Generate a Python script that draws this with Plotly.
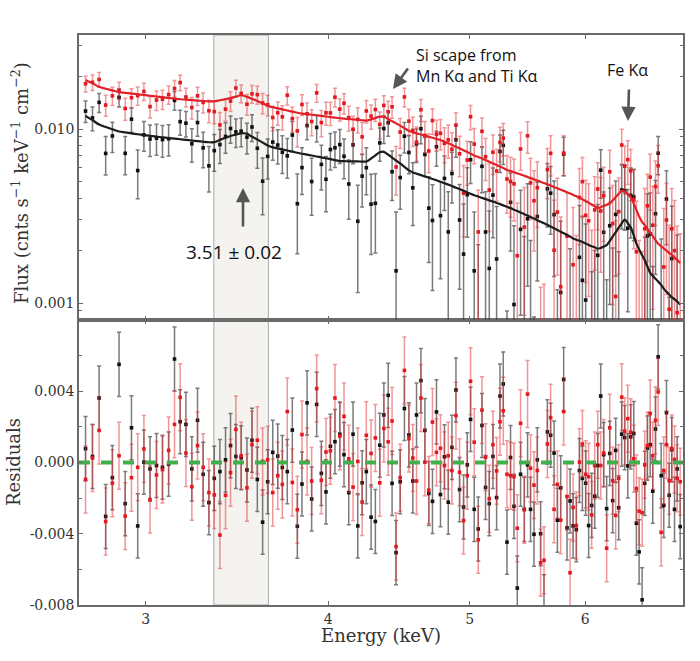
import numpy as np
import plotly.graph_objects as go

# ---------------- data ----------------
energy = [
    2.728, 2.758, 2.787, 2.816, 2.846, 2.876, 2.904, 2.933, 2.962, 2.991, 3.020, 3.051,
    3.080, 3.110, 3.139, 3.167, 3.196, 3.226, 3.255, 3.284, 3.314, 3.342, 3.372, 3.402,
    3.429, 3.458, 3.487, 3.519, 3.547, 3.577, 3.607, 3.636, 3.665, 3.694, 3.721, 3.750,
    3.780, 3.810, 3.838, 3.869, 3.897, 3.928, 3.957, 3.986, 4.014, 4.043, 4.074, 4.101,
    4.132, 4.160, 4.191, 4.220, 4.248, 4.280, 4.309,
    4.339, 4.367, 4.397, 4.424, 4.452, 4.481, 4.511, 4.543, 4.571, 4.598, 4.630, 4.659,
    4.688, 4.715, 4.745, 4.775, 4.805, 4.834, 4.862, 4.893, 4.921, 4.952, 4.981, 5.007,
    5.036, 5.068, 5.098, 5.127, 5.157, 5.187, 5.217, 5.245, 5.272, 5.303, 5.333, 5.362,
    5.390, 5.418, 5.450,
    5.478, 5.504, 5.534, 5.563, 5.592, 5.622, 5.652, 5.681, 5.712, 5.742, 5.772, 5.799,
    5.830, 5.858, 5.886, 5.916, 5.945, 5.973, 6.004, 6.032, 6.061, 6.090, 6.119, 6.148,
    6.177, 6.206, 6.236, 6.265, 6.295, 6.325, 6.355, 6.385, 6.416, 6.446, 6.477, 6.504,
    6.532, 6.563, 6.590, 6.618, 6.647, 6.674, 6.703, 6.731, 6.763, 6.791, 6.820, 6.849,
    6.877, 6.907, 6.936, 6.969,
]

model_black = [
    0.0119, 0.01124, 0.0106, 0.01027, 0.00997, 0.00968, 0.00956, 0.00944, 0.00933, 0.00923,
    0.00912, 0.00903, 0.00896, 0.00888, 0.00880, 0.00873, 0.00866, 0.00859, 0.00852, 0.00845,
    0.00839, 0.0084, 0.00865, 0.00891,
    0.00912, 0.00928, 0.00944, 0.0094, 0.00902, 0.0087, 0.00836, 0.00804, 0.00784, 0.00773,
    0.00763, 0.00752, 0.00741, 0.0073, 0.00721, 0.00712, 0.00704, 0.00695, 0.00687, 0.00679,
    0.00671, 0.00663, 0.00654, 0.00653, 0.00652, 0.00652, 0.00651, 0.0065, 0.0065, 0.00677,
    0.00705,
    0.00735, 0.00739, 0.00711, 0.00685, 0.00659, 0.00634, 0.00606, 0.00578, 0.00563, 0.00554,
    0.00543, 0.00534, 0.00525, 0.00516, 0.00507, 0.00498, 0.00488, 0.00479, 0.0047, 0.0046,
    0.00452, 0.00441, 0.00432, 0.00424, 0.00416, 0.00409, 0.00402, 0.00396, 0.00389, 0.00383,
    0.00376, 0.0037, 0.00364, 0.00357, 0.00351, 0.00344, 0.00338, 0.00331, 0.00324,
    0.00318, 0.00312, 0.00306, 0.00299, 0.00293, 0.00287, 0.00281, 0.00275, 0.00269, 0.00263,
    0.00257, 0.00252, 0.00246, 0.00241, 0.00235, 0.00231, 0.00228, 0.00224, 0.0022, 0.00216,
    0.00212, 0.00209, 0.00205, 0.00207, 0.00211, 0.00215, 0.00227, 0.00241, 0.00255, 0.00271,
    0.00287, 0.00302, 0.00288, 0.00272, 0.00245, 0.0022, 0.00203, 0.00188, 0.00176, 0.00162,
    0.00149, 0.00143, 0.00138, 0.00133, 0.00127, 0.00121, 0.00116, 0.00112, 0.00108, 0.00105,
    0.00102, 0.00098,
]

model_red = [
    0.01914, 0.0183, 0.01747, 0.01704, 0.01667, 0.01628, 0.01613, 0.01598, 0.01582, 0.01568,
    0.01553, 0.01537, 0.01523, 0.01509, 0.01495, 0.01482, 0.01474, 0.01465, 0.01457, 0.01449,
    0.01442, 0.01441, 0.01463, 0.01484,
    0.01504, 0.01534, 0.01563, 0.0153, 0.01492, 0.0145, 0.01405, 0.01362, 0.01333, 0.01314,
    0.01297, 0.01277, 0.01259, 0.0124, 0.01226, 0.01217, 0.01208, 0.01198, 0.01189, 0.0118,
    0.01171, 0.01162, 0.01153, 0.01147, 0.01141, 0.01135, 0.01129, 0.01123, 0.01117, 0.01135,
    0.01156,
    0.01177, 0.01175, 0.0114, 0.01109, 0.01077, 0.01045, 0.01011, 0.00976, 0.00956, 0.00944,
    0.00929, 0.00916, 0.00903, 0.00891, 0.00877, 0.00865, 0.00845, 0.00828, 0.0081, 0.0079,
    0.00775, 0.00754, 0.00737, 0.00721, 0.00705, 0.0069, 0.00676, 0.00663, 0.00649, 0.00635,
    0.00621, 0.00608, 0.00596, 0.00582, 0.00573, 0.00564, 0.00556, 0.00548, 0.00538,
    0.0053, 0.00522, 0.00514, 0.00505, 0.00498, 0.00489, 0.00481, 0.00473, 0.00464, 0.00456,
    0.00448, 0.00441, 0.00433, 0.00426, 0.00418, 0.0041, 0.00402, 0.00394, 0.00385, 0.00377,
    0.00368, 0.0036, 0.00352, 0.00355, 0.00361, 0.00367, 0.00373, 0.00388, 0.00406, 0.00424,
    0.00442, 0.00435, 0.00421, 0.00405, 0.00372, 0.00343, 0.00314, 0.00292, 0.0028, 0.00267,
    0.00254, 0.00242, 0.0023, 0.00219, 0.00212, 0.00206, 0.002, 0.00194, 0.00189, 0.00183,
    0.00177, 0.0017,
]

# residuals (data - model), in units of 1e-3
resid_black_e3 = [
    0.78, 0.34, 3.62, -3.03, -0.85, 5.51, -2.31, 1.95, -3.56, 0.02, -0.36, -0.17,
    -0.27, -0.09, 5.81, 2.29, 2.14, -0.36, 2.37, -0.66, -2.25, -0.89, -0.51, 0.15,
    0.95, 0.34, 0.27, -0.42, 1.25, -0.95, -3.35, -1.08, 0.57, 0.36, -0.28, -0.51,
    1.82, -3.58, -1.21, 3.35, -2.05, 3.26, -0.61, -1.65, 0.91, 1.17, 1.59, 0.44,
    -1.69, 1.59, -3.56, -1.14, -0.51, -3.07, -3.31,
    0.97, 2.67, 3.77, -1.17, -5.06, -1.08, 3.03, 1.55, -1.04, 2.67, 4.60, 1.80,
    -1.74, -2.18, 2.84, -1.80, 0.32, -2.23, 0.85, 4.07, -1.52, -2.50, -0.13, 2.42,
    -2.63, -3.73, 2.08, -1.40, -2.31, 0.34, -1.97, 3.73, 4.41, -4.47, 0.28, -2.46,
    -7.05, -0.66, -2.63,
    -0.13, -2.63, -4.03, 0.15, -4.00, -8.10, 1.72, 1.53, 0.53, -3.24, -1.42, 4.66,
    -3.67, -2.16, -3.56, -3.77, -0.45, -0.89, -1.16, -3.54, -2.41, -1.89, -0.17, 3.73,
    0.44, -2.59, 0.51, -2.14, 0.68, -2.54, 1.59, 1.40, -0.19, 1.44, 1.63, -3.41,
    -5.02, -7.71, -1.17, 0.81, 1.00, -1.61, 1.88, 5.93, -0.74, -2.41, 2.80, -1.84,
    0.72, -2.63, -0.36, -3.60,
]

resid_red_e3 = [
    -0.95, 0.25, 1.80, -3.31, -1.16, 0.38, -3.01, -0.85, -0.27, 0.76, -2.08, -0.70,
    -0.40, 0.68, 2.14, 3.66, 0.53, -1.36, 0.95, -0.27, -1.69, -1.82, -4.07, -1.84,
    -0.57, 1.86, 0.38, -1.42, 1.00, 1.25, 0.06, 0.15, -1.69, -0.74, -1.23, 2.86,
    -1.12, -2.65, 1.57, 0.06, -1.04, 4.15, -1.00, 0.59, 0.66, 3.62, 1.48, 2.59,
    0.21, -1.38, 0.06, -2.22, 1.53, 0.51, 1.38,
    -1.14, 1.91, 1.16, 2.33, -4.72, -0.85, 5.17, 1.34, 0.25, -1.04, 3.62, 0.02,
    -1.55, 2.27, 0.57, 0.80, -0.17, 0.38, -0.45, 2.63, -0.55, -3.26, -0.74, 4.56,
    1.14, -4.34, 2.94, 0.30, -2.03, 1.00, -0.47, 2.29, 2.90, -0.66, -0.74, -0.80,
    -3.69, 2.20, -2.65,
    3.84, -0.32, -1.27, -0.45, -5.63, -5.49, 1.04, 2.52, -2.63, -1.23, -3.24, 2.86,
    -1.91, -6.19, -2.52, -3.54, 0.02, 1.04, -0.66, -0.80, -2.94, -0.17, 1.00, -0.17,
    0.53, -4.81, 1.95, -1.02, -2.97, -0.89, 3.67, 1.76, 2.46, 1.70, 0.21, -1.46,
    -2.73, -2.82, -0.13, 0.95, 2.75, 0.38, 2.37, 3.96, -3.92, -0.45, 1.00, -1.02,
    0.78, 0.17, -0.89, -1.08,
]

err_black = 0.00180   # 1-sigma error bar half length
err_red = 0.00188

band_lo, band_hi = 3.34, 3.64      # shaded 3.51 keV region
x_range = [2.7, 7.0]
flux_ticks = [0.001, 0.01]
flux_ticktext = ["0.001", "0.010"]
res_ticks = [-0.008, -0.004, 0.0, 0.004]
res_ticktext = ["-0.008", "-0.004", "0.000", "0.004"]
x_ticks = [3, 4, 5, 6]

# ---------------- derived ----------------
E = np.array(energy)
rb = np.array(resid_black_e3) * 1e-3
rr = np.array(resid_red_e3) * 1e-3
fb = np.array(model_black) + rb
fr = np.array(model_red) + rr

BLACK = "#111111"
RED = "#e3191f"
BLACK_ERR = "rgba(60,60,60,0.68)"
RED_ERR = "rgba(228,45,50,0.5)"
MSIZE = 3.6

fig = go.Figure()


def add_points(flux, err, color, ecolor, axes):
    xa, ya = axes
    pos = flux > 0
    fig.add_trace(go.Scatter(
        x=E[pos], y=flux[pos], mode="markers", xaxis=xa, yaxis=ya,
        marker=dict(color=color, size=MSIZE, symbol="square"),
        error_y=dict(type="constant", value=err, color=ecolor, thickness=1.5, width=2),
        hoverinfo="skip"))
    if ya == "y2":
        neg = (~pos) & (flux + err > 0)
        if neg.any():
            n = int(neg.sum())
            fig.add_trace(go.Scatter(
                x=E[neg], y=flux[neg] + err, mode="markers", xaxis=xa, yaxis=ya,
                marker=dict(color=color, size=1, opacity=0),
                error_y=dict(type="data", symmetric=False, array=[0] * n,
                             arrayminus=[1.0] * n, color=ecolor, thickness=1.5, width=2),
                hoverinfo="skip"))


# top panel
add_points(fb, err_black, BLACK, BLACK_ERR, ("x2", "y2"))
add_points(fr, err_red, RED, RED_ERR, ("x2", "y2"))
fig.add_trace(go.Scatter(x=E, y=model_black, mode="lines", xaxis="x2", yaxis="y2",
                         line=dict(color="#1c1c1c", width=2.2, shape="spline", smoothing=0.8),
                         hoverinfo="skip"))
fig.add_trace(go.Scatter(x=E, y=model_red, mode="lines", xaxis="x2", yaxis="y2",
                         line=dict(color="#e02128", width=2.2, shape="spline", smoothing=0.8),
                         hoverinfo="skip"))

# bottom panel
fig.add_trace(go.Scatter(
    x=E, y=rb, mode="markers", xaxis="x", yaxis="y",
    marker=dict(color=BLACK, size=MSIZE, symbol="square"),
    error_y=dict(type="constant", value=err_black, color=BLACK_ERR, thickness=1.5, width=2),
    hoverinfo="skip"))
fig.add_trace(go.Scatter(
    x=E, y=rr, mode="markers", xaxis="x", yaxis="y",
    marker=dict(color=RED, size=MSIZE, symbol="square"),
    error_y=dict(type="constant", value=err_red, color=RED_ERR, thickness=1.5, width=2),
    hoverinfo="skip"))
fig.add_trace(go.Scatter(
    x=x_range, y=[0, 0], mode="lines", xaxis="x", yaxis="y",
    line=dict(color="#3fb04a", width=4, dash="11px,11px"), hoverinfo="skip"))

# shaded band across both panels
fig.add_shape(type="rect", xref="x", yref="paper", x0=band_lo, x1=band_hi, y0=0, y1=1,
              fillcolor="#f4f3ef", line=dict(color="#a9a9a9", width=1), layer="below")

frame = dict(showline=True, linecolor="#6a6a6a", linewidth=1.5, mirror="ticks",
             ticks="inside", ticklen=4, tickwidth=1, tickcolor="#6a6a6a",
             showgrid=False, zeroline=False)
tickfont = dict(family="DejaVu Serif", size=14, color="#333333")

fig.update_layout(
    width=700, height=661,
    margin=dict(l=79, r=17, t=35, b=56),
    paper_bgcolor="white", plot_bgcolor="rgba(0,0,0,0)",
    showlegend=False,
    font=dict(family="DejaVu Serif", size=14, color="#333333"),
    xaxis=dict(type="log", range=[np.log10(x_range[0]), np.log10(x_range[1])],
               domain=[0, 1], anchor="y", tickvals=x_ticks,
               ticktext=[str(t) for t in x_ticks], tickfont=tickfont, **frame),
    yaxis=dict(domain=[0, 0.5], anchor="x", range=[-0.008, 0.008],
               tickvals=res_ticks, ticktext=res_ticktext, tickfont=tickfont,
               minor=dict(tickvals=[-0.006, -0.002, 0.002, 0.006], ticks="inside",
                          ticklen=3, tickcolor="#6a6a6a"),
               **frame),
    xaxis2=dict(type="log", range=[np.log10(x_range[0]), np.log10(x_range[1])],
                domain=[0, 1], anchor="y2", matches="x", tickvals=x_ticks,
                showticklabels=False, **frame),
    yaxis2=dict(type="log", domain=[0.5, 1], anchor="x2",
                range=[-3.0977, -1.4598], tickvals=flux_ticks, ticktext=flux_ticktext,
                tickfont=tickfont,
                minor=dict(tickvals=[0.0009, 0.002, 0.003, 0.004, 0.005, 0.006, 0.007,
                                     0.008, 0.009, 0.02, 0.03],
                           ticks="inside", ticklen=3, tickcolor="#6a6a6a"),
                **frame),
)

W, X0, H, Y0 = 604.0, 79.0, 570.0, 605.0


def px(xp):
    return (xp - X0) / W


def py(yp):
    return (Y0 - yp) / H


sans = dict(family="Open Sans", color="#111111")
arrow = dict(showarrow=True, arrowhead=2, arrowsize=1.1, arrowwidth=2.6,
             arrowcolor="#555555", standoff=0, text="", xref="paper", yref="paper",
             axref="pixel", ayref="pixel")

ann = [
    dict(text="Si scape from<br>Mn Kα and Ti Kα", x=px(414), y=py(65), xref="paper",
         yref="paper", xanchor="left", yanchor="middle", align="left", showarrow=False,
         font=dict(size=16, **sans)),
    dict(text="Fe Kα", x=px(627), y=py(70), xref="paper", yref="paper",
         xanchor="center", yanchor="middle", showarrow=False, font=dict(size=16, **sans)),
    dict(text="3.51 ± 0.02", x=px(234), y=py(252), xref="paper", yref="paper",
         xanchor="center", yanchor="middle", showarrow=False, font=dict(size=19, **sans)),
    dict(x=px(393), y=py(89), ax=16, ay=-22, **arrow),
    dict(x=px(628), y=py(121), ax=1, ay=-33, **arrow),
    dict(x=px(243), y=py(188), ax=0, ay=40, **arrow),
    dict(text="Flux (cnts s<sup>−1</sup> keV<sup>−1</sup> cm<sup>−2</sup>)",
         x=px(20), y=py(183), xref="paper", yref="paper", textangle=-90,
         xanchor="center", yanchor="middle", showarrow=False,
         font=dict(family="DejaVu Serif", size=18, color="#333333")),
    dict(text="Residuals", x=px(13), y=py(462), xref="paper", yref="paper",
         textangle=-90, xanchor="center", yanchor="middle", showarrow=False,
         font=dict(family="DejaVu Serif", size=18, color="#333333")),
    dict(text="Energy (keV)", x=0.5, y=py(635), xref="paper", yref="paper",
         xanchor="center", yanchor="middle", showarrow=False,
         font=dict(family="DejaVu Serif", size=18, color="#333333")),
]
fig.update_layout(annotations=ann)

fig.write_html("out.html", config={"displayModeBar": False},
               post_script="document.body.style.margin='0px';")
